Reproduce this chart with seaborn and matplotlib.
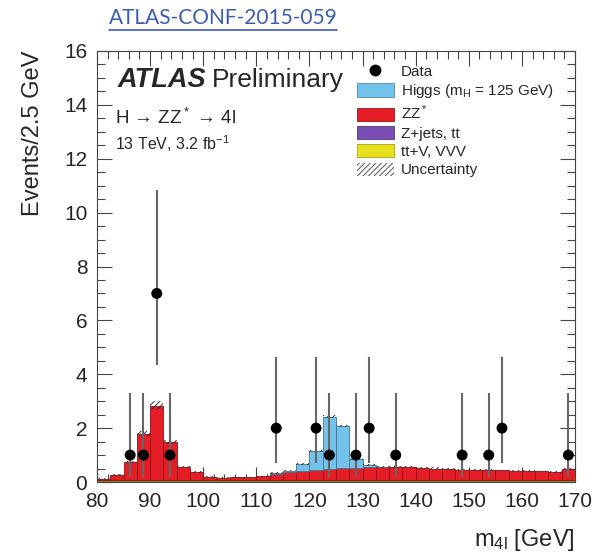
import numpy as np
import pandas as pd
import seaborn as sns
import matplotlib.pyplot as plt
import matplotlib.colors as mcolors
from matplotlib.patches import Patch
from matplotlib.lines import Line2D
from matplotlib.ticker import MultipleLocator

# binning: 2.5 GeV bins from 80 to 170 GeV
bin_edges = [80 + 2.5 * i for i in range(37)]
bin_centers = np.array(bin_edges[:-1]) + 1.25

# expected events per bin
higgs = [0, 0, 0, 0, 0, 0, 0, 0, 0, 0, 0, 0,
         0, 0.02, 0.05, 0.24, 0.70, 1.94, 1.57, 0.32, 0.07, 0.01,
         0, 0, 0, 0, 0, 0, 0, 0, 0, 0, 0, 0, 0, 0]
zz = [0.06, 0.19, 0.68, 1.74, 2.77, 1.43, 0.50, 0.31, 0.14, 0.10, 0.11, 0.12,
      0.16, 0.25, 0.31, 0.36, 0.40, 0.43, 0.45, 0.47, 0.49, 0.50,
      0.50, 0.49, 0.47, 0.44, 0.42, 0.40, 0.39, 0.38, 0.37, 0.36, 0.34, 0.33, 0.31, 0.41]
zjets = [0.05] * 36
ttv = [0.01] * 36
unc = [0.02, 0.03, 0.05, 0.10, 0.17, 0.08, 0.04, 0.03, 0.02, 0.02, 0.02, 0.02,
       0.02, 0.03, 0.03, 0.03, 0.04, 0.05, 0.05, 0.04, 0.04, 0.04,
       0.04, 0.04, 0.04, 0.04, 0.04, 0.03, 0.03, 0.03, 0.03, 0.03, 0.03, 0.03, 0.03, 0.04]

# observed data
data_mass = [86.25, 88.75, 91.25, 93.75, 113.75, 121.25, 123.75, 128.75,
             131.25, 136.25, 148.75, 153.75, 156.25, 168.75]
data_n = [1, 1, 7, 1, 2, 2, 1, 1, 2, 1, 1, 1, 2, 1]
err_lo = [0.83, 0.83, 2.65, 0.83, 1.29, 1.29, 0.83, 0.83, 1.29, 0.83, 0.83, 0.83, 1.29, 0.83]
err_hi = [2.30, 2.30, 3.83, 2.30, 2.64, 2.64, 2.30, 2.30, 2.64, 2.30, 2.30, 2.30, 2.64, 2.30]

processes = ["Higgs", "ZZ*", "tt+V, VVV", "Z+jets, tt"]
colors = {"Higgs": "#72c2ec", "ZZ*": "#e41d26", "tt+V, VVV": "#e6e01c", "Z+jets, tt": "#7a4fb3"}

sns.set_style("ticks")
plt.rcParams['font.family'] = ['Liberation Sans', 'DejaVu Sans']
plt.rcParams['mathtext.default'] = 'regular'
plt.rcParams['hatch.linewidth'] = 0.7

df = pd.DataFrame({
    "m4l": np.tile(bin_centers, 4),
    "events": np.concatenate([higgs, zz, ttv, zjets]),
    "process": np.repeat(processes, len(bin_centers)),
})

fig = plt.figure(figsize=(5.94, 5.56), dpi=100)
ax = fig.add_axes([97 / 594, 1 - 482 / 556, 478 / 594, 431 / 556])

sns.histplot(data=df, x="m4l", weights="events", hue="process", hue_order=processes,
             palette=colors, multiple="stack", bins=bin_edges, element="bars",
             alpha=1, linewidth=0.6, legend=False, ax=ax)

# darker outlines like the ROOT style, hide empty bars
for p in ax.patches:
    fc = np.array(mcolors.to_rgb(p.get_facecolor()))
    p.set_edgecolor(fc * 0.6)
    if p.get_height() <= 0:
        p.set_linewidth(0)

total = np.array(higgs) + np.array(zz) + np.array(zjets) + np.array(ttv)
unc = np.array(unc)
ax.bar(bin_centers, 2 * unc, bottom=total - unc, width=2.5, fill=False,
       hatch="//////", edgecolor="#333333", linewidth=0, zorder=3)

ax.errorbar(data_mass, data_n, yerr=[err_lo, err_hi], fmt="none",
            ecolor="#666666", elinewidth=1.5, zorder=4)
sns.scatterplot(x=data_mass, y=data_n, color="black", s=62, edgecolor="none",
                ax=ax, zorder=5)

ax.set_xlim(80, 170)
ax.set_ylim(0, 16)
ax.xaxis.set_major_locator(MultipleLocator(10))
ax.xaxis.set_minor_locator(MultipleLocator(2))
ax.yaxis.set_major_locator(MultipleLocator(2))
ax.yaxis.set_minor_locator(MultipleLocator(0.5))
ax.tick_params(which="both", direction="in", top=True, right=True, width=0.8, color="#444444")
ax.tick_params(which="major", length=11, labelsize=15, pad=7)
ax.tick_params(which="minor", length=6)
for s in ax.spines.values():
    s.set_linewidth(0.8)
    s.set_color("#444444")

ax.set_xlabel("m$_{4l}$ [GeV]", fontsize=17, loc="right", labelpad=12)
ax.set_ylabel("Events/2.5 GeV", fontsize=17, loc="top", labelpad=14)

ax.text(0.042, 0.9165, "ATLAS", transform=ax.transAxes, fontsize=19.5,
        fontweight="bold", fontstyle="italic", va="baseline")
ax.text(0.241, 0.9165, "Preliminary", transform=ax.transAxes, fontsize=19, va="baseline")
ax.text(0.038, 0.8306, "H → ZZ$^*$ → 4l", transform=ax.transAxes, fontsize=13.5, va="baseline")
ax.text(0.038, 0.770, "13 TeV, 3.2 fb$^{-1}$", transform=ax.transAxes, fontsize=11.5, va="baseline")

handles = [
    Line2D([], [], marker="o", color="black", linestyle="none", markersize=7.5),
    Patch(facecolor=colors["Higgs"], edgecolor="#4a8fb5", linewidth=0.6),
    Patch(facecolor=colors["ZZ*"], edgecolor="#a01018", linewidth=0.6),
    Patch(facecolor=colors["Z+jets, tt"], edgecolor="#55357e", linewidth=0.6),
    Patch(facecolor=colors["tt+V, VVV"], edgecolor="#a8a210", linewidth=0.6),
    Patch(facecolor="white", edgecolor="#555555", hatch="//////", linewidth=0),
]
labels = ["Data", "Higgs (m$_H$ = 125 GeV)", "ZZ$^*$", "Z+jets, tt", "tt+V, VVV", "Uncertainty"]
ax.legend(handles, labels, loc="upper left", bbox_to_anchor=(0.544, 0.970),
          frameon=False, fontsize=11, handlelength=2.4, handleheight=0.95,
          handletextpad=0.45, labelspacing=0.23, borderpad=0, borderaxespad=0)

title = fig.text(223 / 594, 1 - 18 / 556, "ATLAS-CONF-2015-059", color="#3c5cb4",
                 fontsize=15, ha="center", va="center", family="Lato")
fig.canvas.draw()
bb = title.get_window_extent()
fig.add_artist(Line2D([bb.x0, bb.x1], [bb.y0 - 2, bb.y0 - 2], transform=None,
                      color="#3c5cb4", linewidth=1.2))

fig.savefig("out.png", dpi=100)
